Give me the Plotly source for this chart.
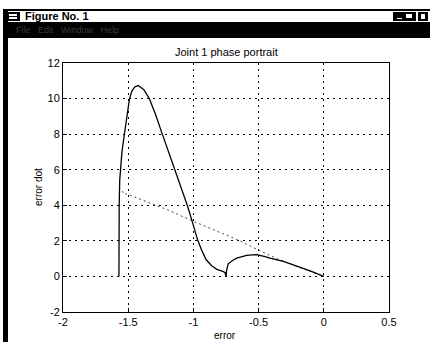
import plotly.graph_objects as go

# ---- data ----
solid_error = [-1.571, -1.571, -1.569, -1.565, -1.558, -1.548, -1.535, -1.522, -1.505, -1.49,
               -1.47, -1.45, -1.423, -1.38, -1.338, -1.29, -1.243, -1.19, -1.12,
               -1.047, -1.005, -0.97, -0.935, -0.903, -0.86, -0.82, -0.78, -0.758,
               -0.75, -0.745, -0.733, -0.70, -0.668, -0.63, -0.591, -0.55, -0.515,
               -0.45, -0.413, -0.31, -0.2, -0.1, 0.0]
solid_error_dot = [0.0, 2.0, 4.0, 5.4, 6.2, 7.0, 7.7, 8.4, 9.4, 10.0,
                   10.45, 10.65, 10.73, 10.5, 10.0, 9.1, 8.1, 7.0, 5.5,
                   4.0, 3.0, 2.1, 1.45, 0.95, 0.6, 0.4, 0.3, 0.22,
                   0.0, 0.35, 0.71, 0.9, 1.03, 1.12, 1.18, 1.21, 1.22,
                   1.12, 1.03, 0.84, 0.58, 0.3, 0.0]

dotted_error = [-1.545, -1.53, -1.515, -1.36, -1.2, -1.026, -0.8, -0.643, -0.5, -0.36, -0.2, 0.0]
dotted_error_dot = [4.8, 4.6, 4.65, 4.2, 3.75, 3.18, 2.5, 2.0, 1.48, 1.0, 0.55, 0.0]

x_tickvals = [-2, -1.5, -1, -0.5, 0, 0.5]
x_ticktext = ["-2", "-1.5", "-1", "-0.5", "0", "0.5"]
y_tickvals = [-2, 0, 2, 4, 6, 8, 10, 12]
y_ticktext = ["-2", "0", "2", "4", "6", "8", "10", "12"]

title_text = "Joint 1 phase portrait"
x_label = "error"
y_label = "error dot"
window_title = "Figure No. 1"
menu_text = "File   Edit   Window   Help"

FONT = "Liberation Sans, Arial, sans-serif"

fig = go.Figure()
fig.add_trace(go.Scatter(x=dotted_error, y=dotted_error_dot, mode="lines",
                         line=dict(color="#444444", width=1, dash="2px,3px"),
                         showlegend=False, hoverinfo="skip"))
fig.add_trace(go.Scatter(x=solid_error, y=solid_error_dot, mode="lines",
                         line=dict(color="black", width=1.3),
                         showlegend=False, hoverinfo="skip"))

W, H = 430, 342
L, R, T, B = 63, 41, 63, 30
PW, PH = W - L - R, H - T - B


def px(p):
    return (p - L) / PW


def py(p):
    return (H - B - p) / PH


shapes = []


def rect(x0, y0, x1, y1, fill="black"):
    shapes.append(dict(type="rect", xref="paper", yref="paper",
                       x0=px(x0), x1=px(x1), y0=py(y1), y1=py(y0),
                       fillcolor=fill, line=dict(width=0), layer="above"))


# window chrome
rect(3, 9, 430, 11)         # top border
rect(3, 9, 8, 342)          # left border
rect(3, 22, 430, 38)        # menu bar
rect(6, 12, 20, 21)         # window icon
rect(9, 14, 17, 16, fill="white")
rect(9, 17, 17, 19, fill="white")
rect(393, 12, 416, 21)      # min/max buttons
rect(397, 18, 402, 19, fill="white")
rect(406, 14, 412, 18, fill="white")
rect(418, 12, 428, 21)      # close button
rect(421, 14, 425, 19, fill="white")

annotations = [
    dict(text=f"<b>{window_title}</b>", xref="paper", yref="paper", x=px(23), y=py(16.5),
         xanchor="left", yanchor="middle", showarrow=False,
         font=dict(family=FONT, size=11, color="black")),
    dict(text=menu_text, xref="paper", yref="paper", x=px(14), y=py(30),
         xanchor="left", yanchor="middle", showarrow=False,
         font=dict(family=FONT, size=9, color="#3a3a3a")),
    dict(text=title_text, xref="paper", yref="paper", x=px(226), y=py(52),
         xanchor="center", yanchor="middle", showarrow=False,
         font=dict(family=FONT, size=11, color="black")),
    dict(text=x_label, xref="paper", yref="paper", x=px(225), y=py(335),
         xanchor="center", yanchor="middle", showarrow=False,
         font=dict(family=FONT, size=10, color="black")),
    dict(text=y_label, xref="paper", yref="paper", x=px(38), y=py(187),
         xanchor="center", yanchor="middle", showarrow=False, textangle=-90,
         font=dict(family=FONT, size=10, color="black")),
]

axis_common = dict(showline=True, linecolor="black", linewidth=1, mirror=True,
                   showgrid=True, gridcolor="black", gridwidth=1, griddash="2px,4px",
                   zeroline=False, ticks="inside", ticklen=4, tickcolor="black",
                   tickfont=dict(family=FONT, size=11, color="black"))

fig.update_layout(
    width=W, height=H,
    margin=dict(l=L, r=R, t=T, b=B, pad=0),
    paper_bgcolor="white", plot_bgcolor="white",
    xaxis=dict(range=[-2, 0.5], tickmode="array", tickvals=x_tickvals, ticktext=x_ticktext,
               **axis_common),
    yaxis=dict(range=[-2, 12], tickmode="array", tickvals=y_tickvals, ticktext=y_ticktext,
               **axis_common),
    shapes=shapes,
    annotations=annotations,
    showlegend=False,
)

fig.write_html("out.html", config={"displayModeBar": False},
               post_script="document.body.style.margin='0px';document.body.style.padding='0px';document.body.style.overflow='hidden';")
